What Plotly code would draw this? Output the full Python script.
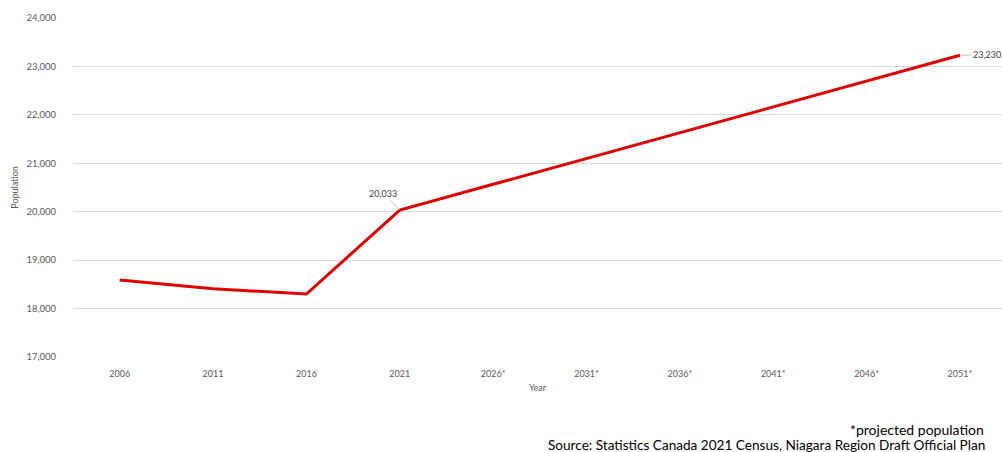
import plotly.graph_objects as go

years = ["2006", "2011", "2016", "2021", "2026*", "2031*", "2036*", "2041*", "2046*", "2051*"]
population = [18590, 18410, 18300, 20033, 20566, 21099, 21632, 22165, 22698, 23230]
y_ticks = [17000, 18000, 19000, 20000, 21000, 22000, 23000, 24000]
y_tick_labels = ["17,000", "18,000", "19,000", "20,000", "21,000", "22,000", "23,000", "24,000"]
labelled_points = [("2021", 20033, "20,033", -17, -17), ("2051*", 23230, "23,230", 27, -1)]

FONT = "Lato, Open Sans, sans-serif"
TICK_COLOR = "#595959"

fig = go.Figure()
fig.add_trace(go.Scatter(
    x=years, y=population, mode="lines",
    line=dict(color="#E00000", width=3),
    hoverinfo="x+y",
))

for xv, yv, txt, axo, ayo in labelled_points:
    fig.add_annotation(
        x=years.index(xv), y=yv, text=txt, showarrow=True, arrowhead=0, arrowwidth=1,
        arrowcolor="#BFBFBF", ax=axo, ay=ayo,
        font=dict(family=FONT, size=9, color="#404040"),
    )

fig.add_annotation(
    xref="paper", yref="paper", x=1, y=-0.215, xanchor="right", yanchor="middle",
    text="*projected population", showarrow=False, xshift=-16,
    font=dict(family=FONT, size=14, color="#000000"),
)
fig.add_annotation(
    xref="paper", yref="paper", x=1, y=-0.26, xanchor="right", yanchor="middle",
    text="Source: Statistics Canada 2021 Census, Niagara Region Draft Official Plan",
    showarrow=False, xshift=-15,
    font=dict(family=FONT, size=13.6, color="#000000"),
)

fig.update_layout(
    width=1002, height=452,
    margin=dict(l=73, r=0, t=18, b=95),
    plot_bgcolor="white", paper_bgcolor="white",
    showlegend=False,
    font=dict(family=FONT, size=9, color=TICK_COLOR),
    xaxis=dict(
        type="category", categoryorder="array", categoryarray=years,
        range=[-0.5, 9.45], showgrid=False, zeroline=False,
        showline=False, ticks="outside", ticklen=8, tickcolor="rgba(0,0,0,0)",
        tickfont=dict(family=FONT, size=9, color=TICK_COLOR),
        title=dict(text="Year", font=dict(family=FONT, size=9, color=TICK_COLOR), standoff=6),
    ),
    yaxis=dict(
        range=[17000, 24000], tickvals=y_ticks, ticktext=y_tick_labels,
        showgrid=True, gridcolor="#D9D9D9", gridwidth=1, zeroline=False,
        showline=False, ticks="outside", ticklen=14, tickcolor="rgba(0,0,0,0)",
        tickfont=dict(family=FONT, size=9.5, color=TICK_COLOR),
        title=dict(text="Population", font=dict(family=FONT, size=9, color=TICK_COLOR), standoff=6),
    ),
)

fig.write_html(
    "out.html",
    config={"displayModeBar": False},
    post_script="document.body.style.margin='0';document.body.style.overflow='hidden';",
)
